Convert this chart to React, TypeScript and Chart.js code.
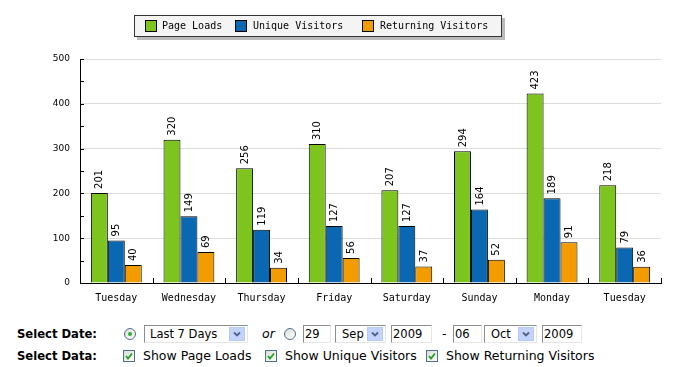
import React, { useEffect, useRef } from "react";
import { Chart, registerables } from "chart.js";

Chart.register(...registerables);

const categories = ["Tuesday", "Wednesday", "Thursday", "Friday", "Saturday", "Sunday", "Monday", "Tuesday"];
const pageLoads = [201, 320, 256, 310, 207, 294, 423, 218];
const uniqueVisitors = [95, 149, 119, 127, 127, 164, 189, 79];
const returningVisitors = [40, 69, 34, 56, 37, 52, 91, 36];
const seriesNames = ["Page Loads", "Unique Visitors", "Returning Visitors"];
const seriesColors = ["#7dc41f", "#0a67b1", "#f29c00"];

const labelPlugin = {
  id: "barLabels",
  afterDatasetsDraw(chart: any) {
    const ctx = chart.ctx;
    ctx.save();
    ctx.font = "10px 'DejaVu Sans'";
    ctx.fillStyle = "#000";
    ctx.textAlign = "left";
    ctx.textBaseline = "middle";
    chart.data.datasets.forEach((ds: any, di: number) => {
      const meta = chart.getDatasetMeta(di);
      meta.data.forEach((bar: any, i: number) => {
        ctx.save();
        ctx.translate(bar.x + 0.5, bar.y - 4);
        ctx.rotate(-Math.PI / 2);
        ctx.fillText(String(ds.data[i]), 0, 0);
        ctx.restore();
      });
    });
    ctx.restore();
  },
  afterDraw(chart: any) {
    const ctx = chart.ctx;
    const area = chart.chartArea;
    const y = chart.scales.y;
    ctx.save();
    ctx.strokeStyle = "#000";
    ctx.lineWidth = 1;
    const n = categories.length;
    const step = (area.right - area.left) / n;
    for (let i = 1; i <= n; i++) {
      const px = Math.round(area.left + step * i) + 0.5;
      ctx.beginPath();
      ctx.moveTo(px, area.bottom);
      ctx.lineTo(px, area.bottom - 5);
      ctx.stroke();
    }
    for (let v = 50; v <= 500; v += 50) {
      const py = Math.round(y.getPixelForValue(v)) + 0.5;
      ctx.beginPath();
      ctx.moveTo(area.left, py);
      ctx.lineTo(area.left + 4, py);
      ctx.stroke();
    }
    ctx.restore();
  },
};

function ChartCanvas() {
  const ref = useRef<HTMLCanvasElement | null>(null);
  useEffect(() => {
    if (!ref.current) return;
    const values = [pageLoads, uniqueVisitors, returningVisitors];
    const chart = new Chart(ref.current, {
      type: "bar",
      data: {
        labels: categories,
        datasets: values.map((d, i) => ({
          label: seriesNames[i],
          data: d,
          backgroundColor: seriesColors[i],
          borderColor: "#000",
          borderWidth: 1,
          borderSkipped: "bottom",
          categoryPercentage: 0.7,
          barPercentage: 1,
        })),
      },
      options: {
        responsive: false,
        animation: false,
        layout: { padding: { top: 59, right: 24, bottom: 0, left: 0 } },
        plugins: { legend: { display: false }, tooltip: { enabled: false } },
        scales: {
          x: {
            grid: { display: false, drawTicks: false },
            border: { display: true, color: "#000", width: 1 },
            ticks: { color: "#000", font: { family: "'DejaVu Sans Mono'", size: 10 }, padding: 9, maxRotation: 0 },
            afterFit: (s: any) => { s.height = 32; },
          },
          y: {
            min: 0,
            max: 500,
            ticks: { stepSize: 100, color: "#000", font: { family: "'DejaVu Sans'", size: 9 }, padding: 10 },
            grid: { color: "#dcdcdc", drawTicks: false },
            border: { display: true, color: "#000", width: 1 },
            afterFit: (s: any) => { s.width = 80; },
          },
        },
      },
      plugins: [labelPlugin],
    });
    return () => chart.destroy();
  }, []);
  return <canvas ref={ref} width={685} height={315} style={{ display: "block", position: "absolute", left: 0, top: 0 }} />;
}

const formFont = "'DejaVu Sans', Verdana, sans-serif";

function Radio({ x, checked }: { x: number; checked: boolean }) {
  return (
    <div style={{ position: "absolute", left: x, top: -6, width: 12, height: 12, borderRadius: "50%", border: "1px solid #4e6f8f", background: "linear-gradient(135deg,#dcdcd6,#ffffff)", boxSizing: "border-box" }}>
      {checked && <div style={{ position: "absolute", left: 3, top: 3, width: 4, height: 4, borderRadius: "50%", background: "#26b130" }} />}
    </div>
  );
}

function Check({ x }: { x: number }) {
  return (
    <div style={{ position: "absolute", left: x, top: -6, width: 12, height: 12, border: "1px solid #4e6f8f", background: "linear-gradient(135deg,#dcdcd6,#ffffff)", boxSizing: "border-box" }}>
      <svg width="10" height="10" style={{ position: "absolute", left: 0, top: 0 }}>
        <polyline points="2,5 4,7.5 8,2.5" fill="none" stroke="#21a121" strokeWidth="1.8" />
      </svg>
    </div>
  );
}

function Box({ x, r, text, pad, arrow }: { x: number; r: number; text: string; pad: number; arrow?: boolean }) {
  return (
    <div style={{ position: "absolute", left: x, top: -9, width: r - x, height: 18, borderTop: "1px solid #8e8e8e", borderLeft: "1px solid #8e8e8e", borderRight: "1px solid #e6e6e6", borderBottom: "1px solid #e6e6e6", background: "#fff", boxSizing: "border-box", fontFamily: formFont, fontSize: 11.5, lineHeight: "16px", paddingLeft: pad, whiteSpace: "nowrap", overflow: "hidden" }}>
      {text}
      {arrow && (
        <div style={{ position: "absolute", right: 2, top: 1, width: 16, height: 14, background: "#c3d3fd", border: "1px solid #b7c9f5", boxSizing: "border-box" }}>
          <svg width="14" height="12" style={{ position: "absolute", left: 0, top: 0 }}>
            <polyline points="4,4.5 7,7.5 10,4.5" fill="none" stroke="#4d6185" strokeWidth="1.8" />
          </svg>
        </div>
      )}
    </div>
  );
}

function Txt({ x, text, style }: { x: number; text: string; style?: React.CSSProperties }) {
  return (
    <div style={{ position: "absolute", left: x, top: -8, lineHeight: "16px", fontFamily: formFont, fontSize: 12.5, whiteSpace: "nowrap", color: "#000", ...style }}>{text}</div>
  );
}

const boldStyle: React.CSSProperties = { fontWeight: "bold", fontSize: 11.6 };

function Legend() {
  const items = [
    { sx: 145, tx: 162 },
    { sx: 235, tx: 253 },
    { sx: 362, tx: 380 },
  ];
  return (
    <div style={{ position: "absolute", left: 134, top: 15, width: 368, height: 22, background: "#f4f4f4", border: "1px solid #333", boxSizing: "border-box", boxShadow: "3px 3px 0 #bbb" }}>
      {items.map((it, i) => (
        <React.Fragment key={i}>
          <div style={{ position: "absolute", left: it.sx - 135, top: 4, width: 12, height: 12, background: seriesColors[i], border: "1px solid #000", boxSizing: "border-box" }} />
          <div style={{ position: "absolute", left: it.tx - 135, top: 2, lineHeight: "16px", fontFamily: "'DejaVu Sans Mono', monospace", fontSize: 10, color: "#000", whiteSpace: "nowrap" }}>{seriesNames[i]}</div>
        </React.Fragment>
      ))}
    </div>
  );
}

export default function App() {
  return (
    <div style={{ position: "absolute", left: 0, top: 0, width: 685, height: 367, background: "#fff", overflow: "hidden" }}>
      <ChartCanvas />
      <Legend />
      <div style={{ position: "absolute", left: 0, top: 334, width: 685, height: 0 }}>
        <Txt x={17} text="Select Date:" style={boldStyle} />
        <Radio x={124} checked={true} />
        <Box x={144} r={248} text="Last 7 Days" pad={5} arrow />
        <Txt x={262} text="or" style={{ fontStyle: "italic" }} />
        <Radio x={284} checked={false} />
        <Box x={303} r={331} text="29" pad={1} />
        <Box x={335} r={386} text="Sep" pad={6} arrow />
        <Box x={391} r={432} text="2009" pad={1} />
        <Txt x={442} text="-" />
        <Box x={453} r={482} text="06" pad={1} />
        <Box x={484} r={537} text="Oct" pad={6} arrow />
        <Box x={542} r={582} text="2009" pad={1} />
      </div>
      <div style={{ position: "absolute", left: 0, top: 356, width: 685, height: 0 }}>
        <Txt x={17} text="Select Data:" style={boldStyle} />
        <Check x={123} />
        <Txt x={143} text="Show Page Loads" />
        <Check x={265} />
        <Txt x={285} text="Show Unique Visitors" />
        <Check x={426} />
        <Txt x={446} text="Show Returning Visitors" />
      </div>
    </div>
  );
}
